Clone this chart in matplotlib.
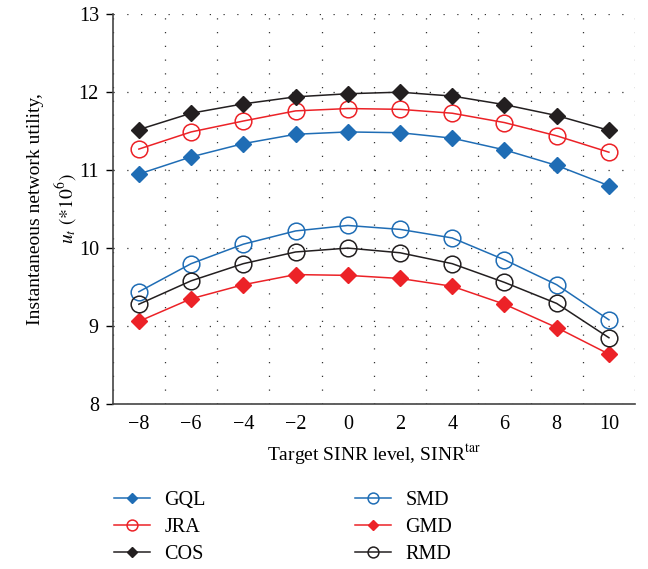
import matplotlib.pyplot as plt
from matplotlib.ticker import MultipleLocator

plt.rcParams['font.family'] = 'Liberation Serif'
plt.rcParams['mathtext.fontset'] = 'stix'

sinr = [-8, -6, -4, -2, 0, 2, 4, 6, 8, 10]
GQL = [10.95, 11.17, 11.34, 11.46, 11.49, 11.48, 11.41, 11.26, 11.06, 10.80]
JRA = [11.27, 11.49, 11.63, 11.76, 11.79, 11.78, 11.73, 11.61, 11.44, 11.23]
COS = [11.52, 11.73, 11.85, 11.94, 11.98, 12.00, 11.95, 11.84, 11.70, 11.51]
SMD = [9.44, 9.80, 10.05, 10.22, 10.29, 10.24, 10.13, 9.85, 9.53, 9.08]
GMD = [9.06, 9.35, 9.53, 9.66, 9.65, 9.61, 9.51, 9.28, 8.98, 8.64]
RMD = [9.28, 9.58, 9.80, 9.95, 10.00, 9.94, 9.80, 9.56, 9.29, 8.85]

blue = '#1f6db5'
red = '#ec2227'
black = '#231f20'

fig = plt.figure(figsize=(6.48, 5.69), dpi=100)
ax = fig.add_axes([0.174, 0.290, 0.806, 0.685])

ax.plot(sinr, GQL, color=blue, marker='D', ms=8, lw=1.1, label='GQL')
ax.plot(sinr, JRA, color=red, marker='o', ms=12, mfc='none', mew=1.1, lw=1.1, label='JRA')
ax.plot(sinr, COS, color=black, marker='D', ms=8, lw=1.1, label='COS')
ax.plot(sinr, SMD, color=blue, marker='o', ms=12, mfc='none', mew=1.1, lw=1.1, label='SMD')
ax.plot(sinr, GMD, color=red, marker='D', ms=8, lw=1.1, label='GMD')
ax.plot(sinr, RMD, color=black, marker='o', ms=12, mfc='none', mew=1.1, lw=1.1, label='RMD')

ax.set_xlim(-9, 11)
ax.set_ylim(8, 13)
ax.set_xticks(range(-8, 11, 2))
ax.set_xticklabels(['\u22128', '\u22126', '\u22124', '\u22122', '0', '2', '4', '6', '8', '10'])
ax.xaxis.set_minor_locator(MultipleLocator(2, offset=1))
ax.set_yticks(range(8, 14))
ax.tick_params(axis='x', which='both', length=0, labelsize=14.5, pad=8)
ax.tick_params(axis='y', length=5, width=1, labelsize=14.5, pad=5)
ax.grid(True, axis='y', which='major', ls=(0, (1, 10)), color='#333333', lw=0.9)
ax.grid(True, axis='x', which='minor', ls=(0, (1, 10)), color='#333333', lw=0.9)

for s in ['top', 'right']:
    ax.spines[s].set_visible(False)
for s in ['left', 'bottom']:
    ax.spines[s].set_linewidth(1.2)
    ax.spines[s].set_color('#444444')

ax.set_xlabel('Target SINR level, SINR$^{\\mathrm{tar}}$', fontsize=14, labelpad=6)
ax.set_ylabel('Instantaneous network utility,\n$u_t$ $(*10^6)$', fontsize=14,
              labelpad=0, linespacing=1.45)

fig.legend(loc='center left', bbox_to_anchor=(0.148, 0.073), ncol=2, frameon=False,
           fontsize=14.5, handlelength=1.8, handletextpad=0.7, columnspacing=7.4,
           labelspacing=0.4, markerscale=0.65)

fig.savefig('out.png', dpi=100)
